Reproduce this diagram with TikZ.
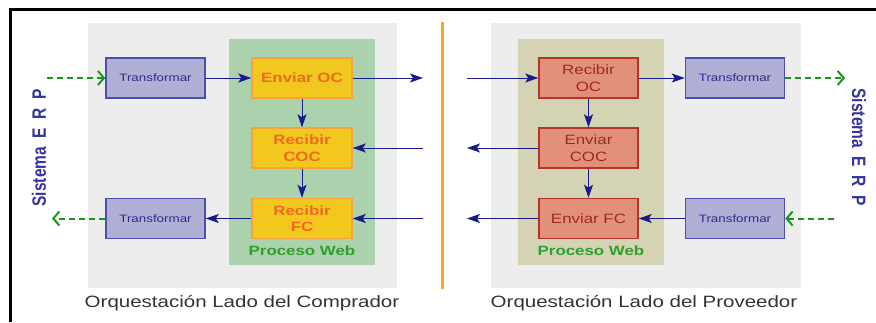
\documentclass[tikz,border=0pt]{standalone}
\usepackage{fontspec}
\setmainfont{Liberation Sans}
\usetikzlibrary{arrows.meta}
\definecolor{panelgrey}{HTML}{EDEDED}
\definecolor{webgreen}{HTML}{ABD2AC}
\definecolor{webolive}{HTML}{D4D4B4}
\definecolor{ocyellow}{HTML}{F2C81E}
\definecolor{ocyellowline}{HTML}{F5A33A}
\definecolor{ocyellowtext}{HTML}{EE6A1E}
\definecolor{salmon}{HTML}{E2907A}
\definecolor{salmonline}{HTML}{B5342A}
\definecolor{salmontext}{HTML}{9E2A1E}
\definecolor{trfill}{HTML}{B0B0D6}
\definecolor{trline}{HTML}{4E4EB0}
\definecolor{trtext}{HTML}{2C2C8C}
\definecolor{navy}{HTML}{1A1A8A}
\definecolor{erpgreen}{HTML}{1A961A}
\definecolor{webtext}{HTML}{2EA02E}
\definecolor{erptext}{HTML}{3434A0}
\definecolor{captiontext}{HTML}{333333}
\definecolor{divider}{HTML}{F5A623}
\newcommand{\wide}[1]{\scalebox{1.25}[1]{#1}}
\newcommand{\tall}[1]{\scalebox{1}[1.25]{#1}}
\newcommand{\erptitle}{Sistema\hspace{8.5pt}E\hspace{8.5pt}R\hspace{8.5pt}P}
\tikzset{
  trbox/.style={draw=trline, fill=trfill, line width=1.5pt, minimum width=99pt, minimum height=40pt, inner sep=0pt,
    text=trtext, font=\fontsize{10.7}{12}\selectfont},
  ocbox/.style={draw=ocyellowline, fill=ocyellow, line width=1.5pt, minimum width=100pt, minimum height=40pt, inner sep=0pt,
    text=ocyellowtext, font=\bfseries\fontsize{13.5}{16.5}\selectfont, align=center},
  pvbox/.style={draw=salmonline, fill=salmon, line width=1.5pt, minimum width=99pt, minimum height=40pt, inner sep=0pt,
    text=salmontext, font=\fontsize{13.5}{16.5}\selectfont, align=center},
  flow/.style={draw=navy, line width=1pt, -{Stealth[length=13pt,width=9pt,inset=3pt]}},
  erpflow/.style={draw=erpgreen, line width=2pt, dash pattern=on 6pt off 4pt, -{Straight Barb[length=6pt,width=14pt,line width=2pt]}},
  weblabel/.style={text=webtext, font=\bfseries\fontsize{13.5}{16}\selectfont},
  erplabel/.style={text=erptext, font=\bfseries\fontsize{15.5}{18}\selectfont},
  caption/.style={text=captiontext, font=\fontsize{16.4}{19}\selectfont},
}
\begin{document}
\begin{tikzpicture}[x=1pt, y=-1pt]
\useasboundingbox (0,0) rectangle (876,322);
\fill[white] (0,0) rectangle (876,322);
% outer frame
\draw[black, line width=3pt] (10,322) -- (10,9) -- (876,9);
% buyer side panels
\fill[panelgrey] (88,23) rectangle (397,288);
\fill[webgreen] (229,39) rectangle (375,265);
% supplier side panels
\fill[panelgrey] (491,23) rectangle (801,288);
\fill[webolive] (518,39) rectangle (664,265);
% divider
\draw[divider, line width=3pt] (442,22) -- (442,289);

% buyer nodes
\node[trbox] (tl) at (155.5,78) {\wide{Transformar}};
\node[trbox] (tb) at (155.5,218.5) {\wide{Transformar}};
\node[ocbox] (eoc) at (302,78) {\wide{Enviar OC}};
\node[ocbox] (rcoc) at (302,148) {\wide{Recibir}\\\wide{COC}};
\node[ocbox] (rfc) at (302,218.5) {\wide{Recibir}\\\wide{FC}};
\node[weblabel] (webl) at (302,251) {\wide{Proceso Web}};
\node[caption] (capl) at (242,303) {\wide{Orquestación Lado del Comprador}};
\node[erplabel, rotate=90] (erpl) at (39,148) {\tall{\erptitle}};

% supplier nodes
\node[pvbox] (roc) at (588.5,78) {\wide{Recibir}\\\wide{OC}};
\node[pvbox] (ecoc) at (588.5,148) {\wide{Enviar}\\\wide{COC}};
\node[pvbox] (efc) at (588.5,218.5) {\wide{Enviar FC}};
\node[trbox] (trt) at (735,78) {\wide{Transformar}};
\node[trbox] (trb) at (735,218.5) {\wide{Transformar}};
\node[weblabel] (webr) at (591,251) {\wide{Proceso Web}};
\node[caption] (capr) at (644,303) {\wide{Orquestación Lado del Proveedor}};
\node[erplabel, rotate=-90] (erpr) at (859,147) {\tall{\erptitle}};

% free ends of the message flows
\coordinate (erpinl) at (47,78);
\coordinate (erpoutl) at (52,218.5);
\coordinate (ocout) at (423,78);
\coordinate (cocin) at (423,148);
\coordinate (fcin) at (423,218.5);
\coordinate (ocin) at (467,78);
\coordinate (cocout) at (467,148);
\coordinate (fcout) at (467,218.5);
\coordinate (erpoutr) at (845,78);
\coordinate (erpinr) at (834,218.5);

% buyer flows
\draw[erpflow] (erpinl) -- (tl.west);
\draw[flow] (tl.east) -- (eoc.west);
\draw[flow] (eoc.east) -- (ocout);
\draw[flow] (eoc.south) -- (rcoc.north);
\draw[flow] (cocin) -- (rcoc.east);
\draw[flow] (rcoc.south) -- (rfc.north);
\draw[flow] (fcin) -- (rfc.east);
\draw[flow] (rfc.west) -- (tb.east);
\draw[erpflow] (tb.west) -- (erpoutl);

% supplier flows
\draw[flow] (ocin) -- (roc.west);
\draw[flow] (roc.east) -- (trt.west);
\draw[flow] (roc.south) -- (ecoc.north);
\draw[flow] (ecoc.west) -- (cocout);
\draw[flow] (ecoc.south) -- (efc.north);
\draw[flow] (efc.west) -- (fcout);
\draw[flow] (trb.west) -- (efc.east);
\draw[erpflow] (trt.east) -- (erpoutr);
\draw[erpflow] (erpinr) -- (trb.east);
\end{tikzpicture}
\end{document}
